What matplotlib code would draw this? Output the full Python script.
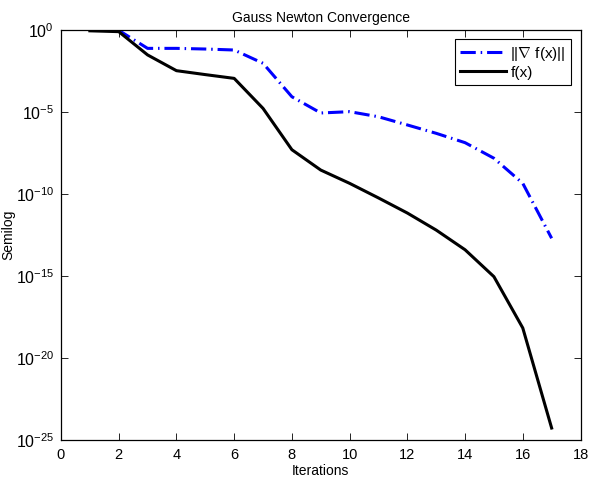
import numpy as np
import matplotlib
matplotlib.use('Agg')
import matplotlib.pyplot as plt
from matplotlib.ticker import FixedLocator, NullLocator

plt.rcParams['font.family'] = ['Liberation Sans', 'DejaVu Sans']
plt.rcParams['mathtext.fontset'] = 'custom'
plt.rcParams['mathtext.rm'] = 'Liberation Sans'
plt.rcParams['mathtext.it'] = 'Liberation Sans'

# Data (log10 values)
iterations = [1, 2, 3, 4, 5, 6, 7, 8, 9, 10, 11, 12, 13, 14, 15, 16, 17]
log_grad = [-0.02, -0.02, -1.12, -1.12, -1.16, -1.22, -2.03, -4.07, -5.06,
            -4.98, -5.29, -5.79, -6.3, -6.87, -7.82, -9.35, -12.7]
log_f = [-0.05, -0.1, -1.52, -2.48, -2.72, -2.95, -4.78, -7.3, -8.54,
         -9.35, -10.24, -11.16, -12.2, -13.4, -15.04, -18.17, -24.27]

grad = 10.0 ** np.array(log_grad)
fval = 10.0 ** np.array(log_f)

fig = plt.figure(figsize=(5.9, 4.88), dpi=100)
ax = fig.add_axes([61/590, 1-440/488, (580.5-61)/590, (440-30)/488])

ax.semilogy(iterations, grad, color='#0000ff', lw=2.2,
            linestyle=(0, (5, 1.6, 0.5, 1.6)), label=r'||$\nabla$ f(x)||')
ax.semilogy(iterations, fval, color='black', lw=2.2, label='f(x)')

ax.set_xlim(0, 18)
ax.set_ylim(1e-25, 1e0)
ax.set_xticks(range(0, 19, 2))
ax.yaxis.set_major_locator(FixedLocator([10.0**k for k in range(-25, 1, 5)]))
ax.yaxis.set_minor_locator(NullLocator())
ax.tick_params(direction='in', top=True, right=True, length=5, width=0.6)
ax.tick_params(axis='x', pad=6, labelsize=10.5)
ax.tick_params(axis='y', pad=5, labelsize=11.5)
for s in ax.spines.values():
    s.set_linewidth(0.9)

ax.set_title('Gauss Newton Convergence', fontsize=10, pad=6)
ax.set_xlabel('Iterations', fontsize=10, labelpad=1)
ax.set_ylabel('Semilog', fontsize=10, labelpad=0)

leg = ax.legend(loc='upper right', fontsize=11, fancybox=False, framealpha=1,
                edgecolor='black', handlelength=3.0, borderaxespad=0.6,
                handletextpad=0.3, borderpad=0.35, labelspacing=0.2)
leg.get_frame().set_linewidth(0.8)

fig.savefig('out.png', dpi=100)
